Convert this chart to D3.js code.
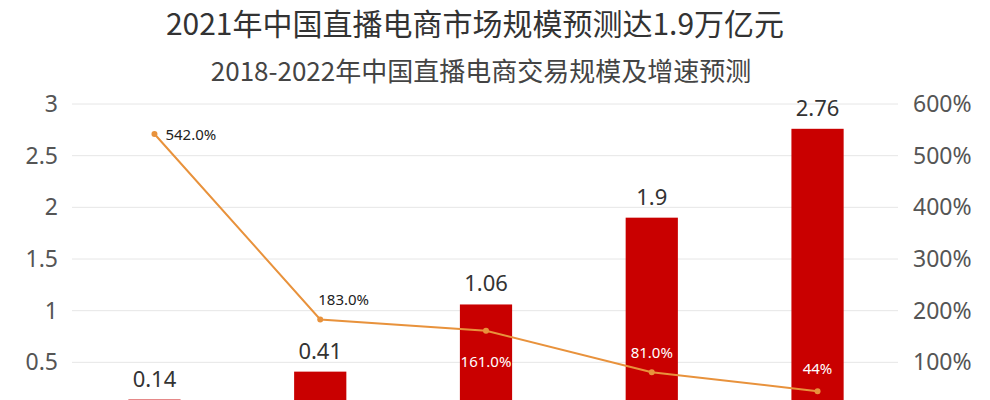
<!DOCTYPE html>
<html><head><meta charset="utf-8">
<script src="https://cdn.jsdelivr.net/npm/d3@7"></script>
<style>
html,body{margin:0;padding:0;background:#fff;}
svg{display:block;font-family:"Noto Sans CJK SC","Noto Sans",sans-serif;}
</style></head>
<body>
<svg id="c" width="990" height="400"></svg>
<script>
const categories = ["2018","2019","2020","2021","2022"];
const scaleValues = [0.14, 0.41, 1.06, 1.9, 2.76];
const growthValues = [542, 183, 161, 81, 44];
const growthLabels = ["542.0%","183.0%","161.0%","81.0%","44%"];
const leftTicks = [0.5, 1, 1.5, 2, 2.5, 3];
const rightTicks = [100, 200, 300, 400, 500, 600];
const title = "2021年中国直播电商市场规模预测达1.9万亿元";
const subtitle = "2018-2022年中国直播电商交易规模及增速预测";

const svg = d3.select("#c");
const x = d3.scaleBand().domain(categories).range([72, 900]).paddingInner(0.685).paddingOuter(0.34);
const yL = d3.scaleLinear().domain([0, 3]).range([414, 104]);
const yR = d3.scaleLinear().domain([0, 600]).range([414, 104]);
const latin = "'Noto Sans','Noto Sans CJK SC',sans-serif";

svg.append("text").attr("x", 475).attr("y", 35).attr("text-anchor", "middle")
  .attr("font-size", 30).attr("fill", "#333").text(title);
svg.append("text").attr("x", 481).attr("y", 81).attr("text-anchor", "middle")
  .attr("font-size", 26).attr("fill", "#444").text(subtitle);

// gridlines
svg.append("g").selectAll("line").data(leftTicks).join("line")
  .attr("x1", 72).attr("x2", 898)
  .attr("y1", d => yL(d)).attr("y2", d => yL(d))
  .attr("stroke", "#e6e6e6").attr("stroke-width", 1);

// left axis
const gl = svg.append("g").attr("transform", "translate(58,0)")
  .call(d3.axisLeft(yL).tickValues(leftTicks).tickSize(0).tickPadding(0).tickFormat(d3.format("~g")));
gl.select(".domain").remove();
gl.selectAll("text").attr("font-size", 23).attr("fill", "#555").attr("font-family", latin);

// right axis
const gr = svg.append("g").attr("transform", "translate(913,0)")
  .call(d3.axisRight(yR).tickValues(rightTicks).tickSize(0).tickPadding(0).tickFormat(d => d + "%"));
gr.select(".domain").remove();
gr.selectAll("text").attr("font-size", 23).attr("fill", "#555").attr("font-family", latin);

// bars
svg.append("g").selectAll("rect").data(scaleValues).join("rect")
  .attr("x", (d, i) => x(categories[i]))
  .attr("width", x.bandwidth())
  .attr("y", d => yL(d))
  .attr("height", d => yL(0) - yL(d))
  .attr("fill", "#c90000");

// bar labels
svg.append("g").selectAll("text").data(scaleValues).join("text")
  .attr("x", (d, i) => x(categories[i]) + x.bandwidth() / 2)
  .attr("y", d => yL(d) - 13)
  .attr("text-anchor", "middle").attr("font-size", 22).attr("fill", "#333")
  .attr("font-family", latin)
  .text(d => d);

// line
const cx = i => x(categories[i]) + x.bandwidth() / 2;
const line = d3.line().x((d, i) => cx(i)).y(d => yR(d));
svg.append("path").datum(growthValues).attr("d", line)
  .attr("fill", "none").attr("stroke", "#e8923c").attr("stroke-width", 2);
svg.append("g").selectAll("circle").data(growthValues).join("circle")
  .attr("cx", (d, i) => cx(i)).attr("cy", d => yR(d)).attr("r", 3)
  .attr("fill", "#e8923c");

// line labels
const lblDx = [11, -2, 0, 0, 0];
const lblDy = [6, -14, 36, -14, -17];
const lblAnchor = ["start", "start", "middle", "middle", "middle"];
const lblColor = ["#222", "#222", "#fff", "#fff", "#fff"];
svg.append("g").selectAll("text").data(growthValues).join("text")
  .attr("x", (d, i) => cx(i) + lblDx[i])
  .attr("y", (d, i) => yR(d) + lblDy[i])
  .attr("text-anchor", (d, i) => lblAnchor[i])
  .attr("font-size", 15).attr("fill", (d, i) => lblColor[i])
  .attr("font-family", latin)
  .text((d, i) => growthLabels[i]);
</script>
</body></html>
